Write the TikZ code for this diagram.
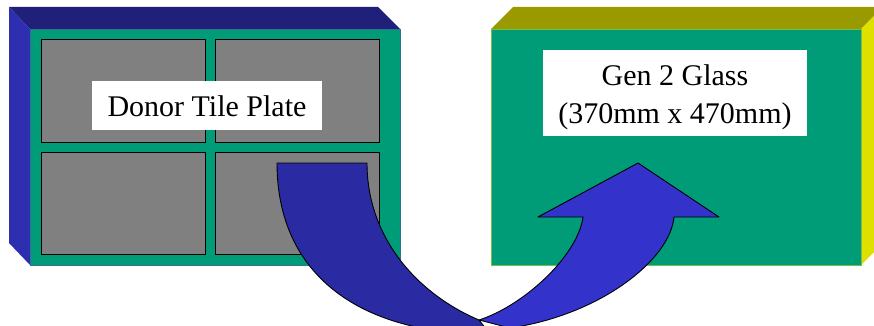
\documentclass[tikz,border=0pt]{standalone}
\usepackage{fontspec}
\setmainfont{Liberation Serif}
\definecolor{frontgreen}{RGB}{0,155,119}
\definecolor{navytop}{RGB}{32,32,122}
\definecolor{blueside}{RGB}{46,46,176}
\definecolor{olivetop}{RGB}{153,153,0}
\definecolor{yellowside}{RGB}{224,224,0}
\definecolor{tilegray}{RGB}{128,128,128}
\definecolor{banddark}{RGB}{42,42,162}
\definecolor{bandlight}{RGB}{51,51,204}
\definecolor{edgeblue}{RGB}{50,110,150}
\definecolor{edgegreen}{RGB}{120,190,70}
\tikzset{
  tile/.style={fill=tilegray, draw=black, line width=0.8pt},
  labelbox/.style={fill=white, draw=none, inner sep=0pt},
  labeltext/.style={font=\fontsize{30}{38}\selectfont, align=center, inner sep=0pt},
  band/.style={draw=black, line width=0.9pt, line join=round},
}
\begin{document}
\begin{tikzpicture}[x=1pt,y=-1pt]
\useasboundingbox (0,0) rectangle (874,326);
\clip (0,0) rectangle (874,326);
% left box (donor plate)
\fill[navytop] (9,7) -- (378,7) -- (400,29) -- (30,29) -- cycle;
\fill[blueside] (9,7) -- (30,29) -- (30,265) -- (9,243) -- cycle;
\filldraw[fill=frontgreen, draw=edgeblue, line width=0.6pt] (30,29) rectangle (400,265);
\path[tile] (41,39) rectangle (205,142);
\path[tile] (215,39) rectangle (379,142);
\path[tile] (41,152) rectangle (205,254);
\path[tile] (215,152) rectangle (379,254);
\node[labelbox, minimum width=230pt, minimum height=49pt] (donorbox) at (207,105.5) {};
\node[labeltext, anchor=base] (donortext) at (207,116) {Donor Tile Plate};
% right box (glass)
\fill[olivetop] (491,29) -- (513,7) -- (883,7) -- (861,29) -- cycle;
\fill[yellowside] (861,29) -- (883,7) -- (883,243) -- (861,265) -- cycle;
\filldraw[fill=frontgreen, draw=edgegreen, line width=0.6pt] (491,29) rectangle (861,265);
\node[labelbox, minimum width=264pt, minimum height=86pt] (glassbox) at (675,93) {};
\node[labeltext] (glasstext) at (675,97.5) {Gen 2 Glass\\(370mm x 470mm)};
% curved arrow: left (descending) band
\coordinate (startout) at (277,163);
\coordinate (startin) at (367,163);
\coordinate (meet) at (479,320);
\coordinate (lowend) at (490,334);
\filldraw[band, fill=banddark] (startout) -- (startin)
  .. controls (367,240) and (420,295) .. (meet)
  -- (lowend)
  .. controls (360,335) and (277,275) .. (startout) -- cycle;
% right (ascending) band with head
\coordinate (shaftin) at (583,217);
\coordinate (headleft) at (538,217);
\coordinate (tip) at (638,163);
\coordinate (headright) at (719,217);
\coordinate (shaftout) at (674,217);
\coordinate (bottomout) at (510,328);
\filldraw[band, fill=bandlight] (meet)
  .. controls (525,305) and (578,255) .. (shaftin)
  -- (headleft) -- (tip) -- (headright) -- (shaftout)
  .. controls (670,260) and (600,315) .. (bottomout)
  -- cycle;
\end{tikzpicture}
\end{document}
